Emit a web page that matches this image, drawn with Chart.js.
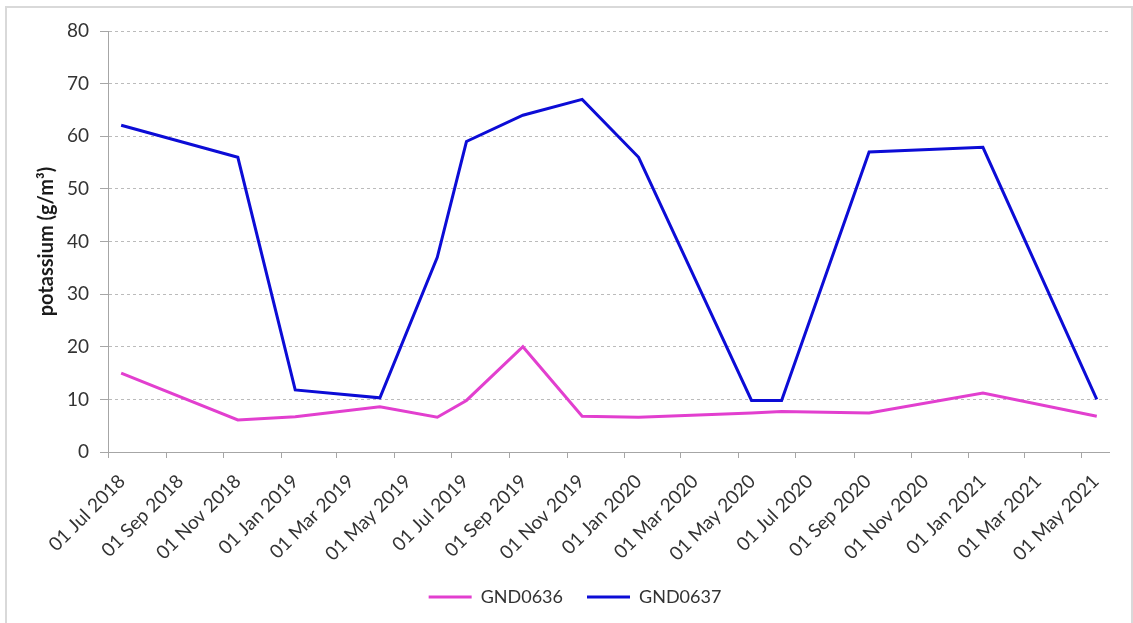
<!DOCTYPE html>
<html>
<head>
<meta charset="utf-8">
<script src="https://cdn.jsdelivr.net/npm/chart.js@4.4.1/dist/chart.umd.min.js"></script>
<style>
  html, body { margin: 0; padding: 0; background: #fff; overflow: hidden; }
  #frame { position: absolute; left: 5px; top: 6px; width: 1124px; height: 640px; border: 2px solid #d9d9d9; }
  #wrap { position: absolute; left: 0; top: 0; width: 1133px; height: 623px; }
</style>
</head>
<body>
<div id="frame"></div>
<div id="wrap"><canvas id="potassiumChart"></canvas></div>
<script>
// sampling dates and measured potassium (g/m3)
const sampleDates = ['2018-07-15', '2018-11-16', '2019-01-16', '2019-04-16', '2019-06-16', '2019-07-17', '2019-09-15',
    '2019-11-17', '2020-01-16', '2020-05-15', '2020-06-16', '2020-09-17', '2021-01-16', '2021-05-17'];
const gnd0636 = [15.0, 6.1, 6.7, 8.6, 6.6, 9.8, 20.0, 6.8, 6.6, 7.4, 7.7, 7.4, 11.2, 6.8];
const gnd0637 = [62.1, 56.0, 11.8, 10.3, 37.0, 59.0, 64.0, 67.0, 56.0, 9.8, 9.8, 57.0, 57.9, 10.0];

// x axis: one tick every two months
const tickDates = ['2018-07-01', '2018-09-01', '2018-11-01', '2019-01-01', '2019-03-01', '2019-05-01', '2019-07-01',
    '2019-09-01', '2019-11-01', '2020-01-01', '2020-03-01', '2020-05-01', '2020-07-01', '2020-09-01',
    '2020-11-01', '2021-01-01', '2021-03-01', '2021-05-01'];
const monthNames = ['Jan', 'Feb', 'Mar', 'Apr', 'May', 'Jun', 'Jul', 'Aug', 'Sep', 'Oct', 'Nov', 'Dec'];
const axisStart = '2018-07-01';
const axisEnd = '2021-05-30';

// days since epoch, so a linear scale can stand in for a time scale
const toDay = s => Date.parse(s + 'T00:00:00Z') / 86400000;
const fmtDay = v => {
    const d = new Date(v * 86400000);
    return String(d.getUTCDate()).padStart(2, '0') + ' ' + monthNames[d.getUTCMonth()] + ' ' + d.getUTCFullYear();
};
const toPoints = vals => vals.map((v, i) => ({ x: toDay(sampleDates[i]), y: v }));

const textColor = '#333333';
const axisColor = '#a6a6a6';

const potassiumChart = new Chart(document.getElementById('potassiumChart').getContext('2d'), {
    type: 'line',
    data: {
        datasets: [{
            label: 'GND0636',
            data: toPoints(gnd0636),
            borderColor: '#e23fcf',
            backgroundColor: '#e23fcf',
            borderWidth: 3,
            pointRadius: 0,
            tension: 0
        }, {
            label: 'GND0637',
            data: toPoints(gnd0637),
            borderColor: '#0c0cd6',
            backgroundColor: '#0c0cd6',
            borderWidth: 3,
            pointRadius: 0,
            tension: 0
        }]
    },
    options: {
        responsive: true,
        maintainAspectRatio: false,
        animation: false,
        layout: { padding: { left: 41, right: 24, top: 31, bottom: 7 } },
        scales: {
            x: {
                type: 'linear',
                min: toDay(axisStart),
                max: toDay(axisEnd),
                afterBuildTicks: axis => { axis.ticks = tickDates.map(d => ({ value: toDay(d) })); },
                afterFit: scale => { scale.height = 112; },
                ticks: {
                    autoSkip: false,
                    maxRotation: 45,
                    minRotation: 45,
                    padding: 12,
                    labelOffset: 14,
                    color: textColor,
                    font: { family: 'Lato', size: 19 },
                    callback: value => fmtDay(value)
                },
                grid: { drawOnChartArea: false, tickLength: 6, tickColor: axisColor },
                border: { color: axisColor, width: 1 }
            },
            y: {
                min: 0,
                max: 80,
                afterFit: scale => { scale.width = 67; },
                ticks: {
                    stepSize: 10,
                    padding: 11,
                    color: textColor,
                    font: { family: 'Lato', size: 19 }
                },
                grid: {
                    color: ctx => ctx.tick && ctx.tick.value === 0 ? 'rgba(0,0,0,0)' : '#bbbbbb',
                    tickColor: axisColor,
                    tickLength: 8
                },
                border: { color: axisColor, width: 1, dash: [3, 3] },
                title: {
                    display: true,
                    text: 'potassium (g/m³)',
                    color: '#1a1a1a',
                    font: { family: 'Lato', size: 20, weight: 'bold' },
                    padding: { top: -6, bottom: 0 }
                }
            }
        },
        plugins: {
            legend: {
                position: 'bottom',
                labels: {
                    usePointStyle: true,
                    pointStyle: 'line',
                    pointStyleWidth: 43,
                    padding: 24,
                    color: textColor,
                    font: { family: 'Lato', size: 18 }
                }
            },
            tooltip: { enabled: false }
        }
    }
});
</script>
</body>
</html>
